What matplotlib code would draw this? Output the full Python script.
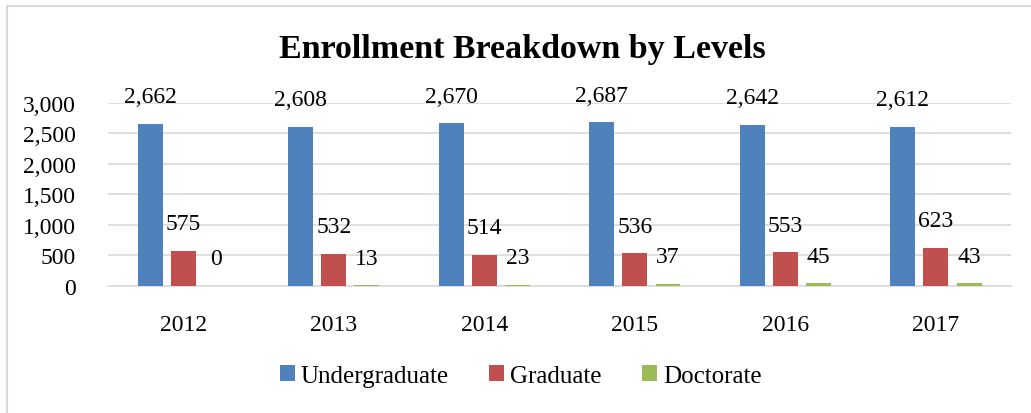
import matplotlib
matplotlib.use("Agg")
import matplotlib.pyplot as plt
import numpy as np
from matplotlib.lines import Line2D

years = ["2012", "2013", "2014", "2015", "2016", "2017"]
undergraduate = [2662, 2608, 2670, 2687, 2642, 2612]
graduate = [575, 532, 514, 536, 553, 623]
doctorate = [0, 13, 23, 37, 45, 43]

series = [("Undergraduate", undergraduate, "#4F81BD"),
          ("Graduate", graduate, "#C0504D"),
          ("Doctorate", doctorate, "#9BBB59")]

plt.rcParams['font.family'] = ['Liberation Serif', 'DejaVu Serif']

fig = plt.figure(figsize=(10.31, 4.14), dpi=100)
ax = fig.add_axes([0.1048, 0.3068, 0.876, 0.442])

x = np.arange(len(years))
width = 0.166
step = 0.22
for i, (name, vals, col) in enumerate(series):
    pos = x + (i - 1) * step
    ax.bar(pos, vals, width, color=col, label=name, zorder=3)
    for px, v in zip(pos, vals):
        ax.annotate(f"{v:,}", (px, v), xytext=(0, 19.5), textcoords="offset points",
                    ha="center", va="center", fontsize=17)

ax.set_xlim(-0.5, len(years) - 0.5)
ax.set_ylim(0, 3000)
ax.set_yticks(range(0, 3001, 500))
ax.yaxis.set_major_formatter(matplotlib.ticker.FuncFormatter(lambda v, p: f"{int(v):,}"))
ax.set_xticks(x)
ax.set_xticklabels(years)
ax.tick_params(axis="y", length=0, pad=23, labelsize=17)
ax.tick_params(axis="x", length=0, pad=20, labelsize=17)
ax.grid(axis="y", color="#d9d9d9", linewidth=1.2, zorder=0)
for s in ["top", "right", "left"]:
    ax.spines[s].set_visible(False)
ax.spines["bottom"].set_color("#d9d9d9")
ax.spines["bottom"].set_linewidth(1.2)

fig.text(0.507, 0.88, "Enrollment Breakdown by Levels", ha="center", va="center",
         fontsize=24.5, fontweight="bold")

fig.legend(loc="center", bbox_to_anchor=(0.505, 0.09), ncol=3, frameon=False,
           fontsize=18, handlelength=0.6, handleheight=0.6, handletextpad=0.25,
           columnspacing=1.6)

# chart border (only top and left show in the crop)
fig.add_artist(Line2D([7 / 1031, 7 / 1031], [0, 1 - 7 / 414], transform=fig.transFigure,
                      color="#d9d9d9", linewidth=1.5))
fig.add_artist(Line2D([7 / 1031, 1], [1 - 7 / 414, 1 - 7 / 414], transform=fig.transFigure,
                      color="#d9d9d9", linewidth=1.5))

fig.savefig("out.png", dpi=100)
